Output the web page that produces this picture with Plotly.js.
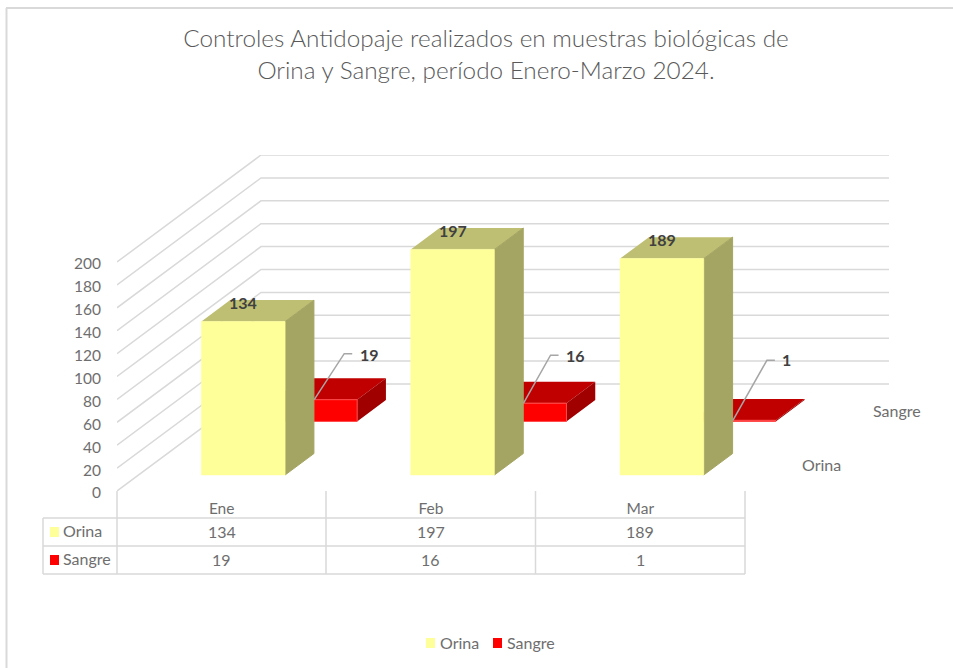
<!DOCTYPE html>
<html>
<head>
<meta charset="utf-8">
<script src="https://cdn.plot.ly/plotly-3.0.1.min.js"></script>
<style>html,body{margin:0;padding:0;background:#fff;overflow:hidden}</style>
</head>
<body>
<div id="chart" style="width:953px;height:668px"></div>
<script>
// ---- data ----
const categories = ["Ene", "Feb", "Mar"];
const orina = [134, 197, 189];
const sangre = [19, 16, 1];
const yTicks = [0, 20, 40, 60, 80, 100, 120, 140, 160, 180, 200];
const seriesNames = ["Orina", "Sangre"];
const titleText = "Controles Antidopaje realizados en muestras biológicas de<br>Orina y Sangre, período Enero-Marzo 2024.";

// ---- oblique projection of the 3-D chart onto the library's 2-D axes ----
const W = 953, H = 668;
const L = 117, R = 889, T = 155, B = 491;
const pxPerCat = 209.33, pxPerVal = 1.145;
const depthPxX = 144, depthPxY = 107;
const DX = depthPxX / pxPerCat, DY = depthPxY / pxPerVal;
const xMax = (R - L) / pxPerCat, yMax = (B - T) / pxPerVal;
const HALF = 0.2, THICK = 0.2;
const ROW_D = { Orina: 0.15, Sangre: 0.65 };
const projX = (c, d) => c + d * DX;
const projY = (v, d) => v + d * DY;
const GREY = "#d9d9d9", TXT = "#6e6e6e", LBL = "#404040", FONT = "Lato, 'Open Sans', sans-serif";

function faces(values, d0) {
  const out = { front: { x: [], y: [] }, top: { x: [], y: [] }, side: { x: [], y: [] } };
  const d1 = d0 + THICK;
  const add = (f, pts) => {
    pts.forEach(p => { f.x.push(projX(p[0], p[1])); f.y.push(projY(p[2], p[1])); });
    f.x.push(projX(pts[0][0], pts[0][1])); f.y.push(projY(pts[0][2], pts[0][1]));
    f.x.push(null); f.y.push(null);
  };
  values.forEach((v, i) => {
    const a = i + 0.5 - HALF, b = i + 0.5 + HALF;
    add(out.front, [[a, d0, 0], [b, d0, 0], [b, d0, v], [a, d0, v]]);
    add(out.top, [[a, d0, v], [b, d0, v], [b, d1, v], [a, d1, v]]);
    add(out.side, [[b, d0, 0], [b, d1, 0], [b, d1, v], [b, d0, v]]);
  });
  return out;
}
const poly = (f, name, color, lineColor, lineWidth) => ({
  type: "scatter", mode: "lines", x: f.x, y: f.y, name: name, fill: "toself", fillcolor: color,
  line: { color: lineColor || color, width: lineWidth === undefined ? 0 : lineWidth }, hoverinfo: "skip", showlegend: false, cliponaxis: false
});

// wall / floor grid lines
const gridX = [], gridY = [];
yTicks.forEach(v => {
  gridX.push(0, projX(0, 1), projX(3, 1), null);
  gridY.push(v, projY(v, 1), projY(v, 1), null);
});
const gridTrace = { type: "scatter", mode: "lines", x: gridX, y: gridY, line: { color: GREY, width: 1.5 }, hoverinfo: "skip", showlegend: false, cliponaxis: false };

// leader lines for the Sangre labels
const leaderOffsets = [[30, 46, 38], [27, 48, 35], [34, 60, 42]]; // px: elbow dx, elbow dy, end dx
const leadX = [], leadY = [];
sangre.forEach((v, i) => {
  const sx = projX(i + 0.5 - HALF, ROW_D.Sangre) + 0.195, sy = projY(v, ROW_D.Sangre);
  const o = leaderOffsets[i];
  leadX.push(sx, sx + o[0] / pxPerCat, sx + o[2] / pxPerCat, null);
  leadY.push(sy, sy + o[1] / pxPerVal, sy + o[1] / pxPerVal, null);
});
const leaderTrace = { type: "scatter", mode: "lines", x: leadX, y: leadY, line: { color: "#a6a6a6", width: 1.5 }, hoverinfo: "skip", showlegend: false, cliponaxis: false };

const fO = faces(orina, ROW_D.Orina), fS = faces(sangre, ROW_D.Sangre);
const traces = [
  gridTrace,
  poly(fS.top, "Sangre top", "#c00000"),
  poly(fS.side, "Sangre side", "#a00000"),
  poly(fS.front, "Sangre", "#ff0000", "#ff4a4a", 1),
  poly(fO.top, "Orina top", "#bfbf73"),
  poly(fO.side, "Orina side", "#a5a563", "#a5a563", 1),
  poly(fO.front, "Orina", "#ffff99", "#ffff99", 0.5),
  leaderTrace
];

// ---- pixel helpers for the table, legend and frame ----
const pX = p => (p - L) / (R - L);
const pY = p => (B - p) / (B - T);
const seg = (x0, y0, x1, y1, color, width) => ({
  type: "line", xref: "paper", yref: "paper", x0: pX(x0), y0: pY(y0), x1: pX(x1), y1: pY(y1),
  line: { color: color || GREY, width: width || 1.5 }, layer: "below"
});
const box = (x0, y0, x1, y1, color) => ({
  type: "rect", xref: "paper", yref: "paper", x0: pX(x0), y0: pY(y0), x1: pX(x1), y1: pY(y1),
  fillcolor: color, line: { width: 0 }, layer: "above"
});
const note = (text, px, py, opts) => Object.assign({
  text: text, xref: "paper", yref: "paper", x: pX(px), y: pY(py - 0.5), showarrow: false,
  xanchor: "center", yanchor: "middle", font: { family: FONT, size: 16, color: TXT }
}, opts || {});

const TBL_L = 43, ROW = [518, 546, 574], COL = [117, 326, 535.5, 745];
const COLORS = ["#ffff99", "#ff0000"];
const shapes = [
  seg(6.5, 8, 6.5, 668, GREY, 2), seg(6, 8, 953, 8, GREY, 2)
];
COL.forEach(c => shapes.push(seg(c, 491, c, ROW[2])));
ROW.forEach(r => shapes.push(seg(TBL_L, r, COL[3], r)));
shapes.push(seg(TBL_L, ROW[0], TBL_L, ROW[2]));
shapes.push(box(50, 527, 59, 537, COLORS[0]), box(50, 555, 59, 565, COLORS[1]));
shapes.push(box(426, 638, 435, 648, COLORS[0]), box(493, 638, 502, 648, COLORS[1]));

const annotations = [];
orina.forEach((v, i) => {
  annotations.push({ text: String(v), xref: "x", yref: "y", x: projX(i + 0.5, ROW_D.Orina), y: projY(v, ROW_D.Orina),
    yshift: 19, showarrow: false, xanchor: "center", yanchor: "middle", font: { family: FONT, size: 16, color: LBL, weight: 700 } });
  annotations.push(note(String(v), (COL[i] + COL[i + 1]) / 2, 532));
});
const sLabelPx = [[369, 355], [575, 356], [786, 360]];
sangre.forEach((v, i) => {
  annotations.push(note(String(v), sLabelPx[i][0], sLabelPx[i][1], { font: { family: FONT, size: 16, color: LBL, weight: 700 } }));
  annotations.push(note(String(v), (COL[i] + COL[i + 1]) / 2, 560));
});
annotations.push(note(seriesNames[0], 61, 531, { xanchor: "left" }));
annotations.push(note(seriesNames[1], 61, 559, { xanchor: "left" }));
annotations.push(note(seriesNames[0], 438, 643, { xanchor: "left" }));
annotations.push(note(seriesNames[1], 505, 643, { xanchor: "left" }));
annotations.push(note(seriesNames[1], 897, 411));
annotations.push(note(seriesNames[0], 821, 465));

const layout = {
  width: W, height: H, autosize: false,
  margin: { l: L, r: W - R, t: T, b: H - B, pad: 0 },
  paper_bgcolor: "#ffffff", plot_bgcolor: "rgba(0,0,0,0)",
  title: {
    text: titleText, x: 486 / W, xanchor: "center", xref: "container",
    y: 1 - 47 / H, yanchor: "top", yref: "container",
    font: { family: "Lato, sans-serif", size: 24.3, color: "#595959", weight: 300 }, pad: { t: 0, b: 0, l: 0, r: 0 }
  },
  xaxis: {
    range: [0, xMax], showgrid: false, zeroline: false, showline: false, fixedrange: true,
    tickmode: "array", tickvals: categories.map((c, i) => i + 0.5), ticktext: categories,
    ticks: "outside", ticklen: 3, tickcolor: "rgba(0,0,0,0)", tickfont: { family: FONT, size: 15.5, color: TXT }
  },
  yaxis: {
    range: [0, yMax], showgrid: false, zeroline: false, showline: false, fixedrange: true,
    tickmode: "array", tickvals: yTicks, ticktext: yTicks.map(String), ticklabelshift: 2,
    ticks: "outside", ticklen: 12, tickcolor: "rgba(0,0,0,0)", tickfont: { family: FONT, size: 15.5, color: TXT }
  },
  shapes: shapes, annotations: annotations, showlegend: false, hovermode: false
};
Plotly.newPlot("chart", traces, layout, { displayModeBar: false, responsive: false });
</script>
</body>
</html>
